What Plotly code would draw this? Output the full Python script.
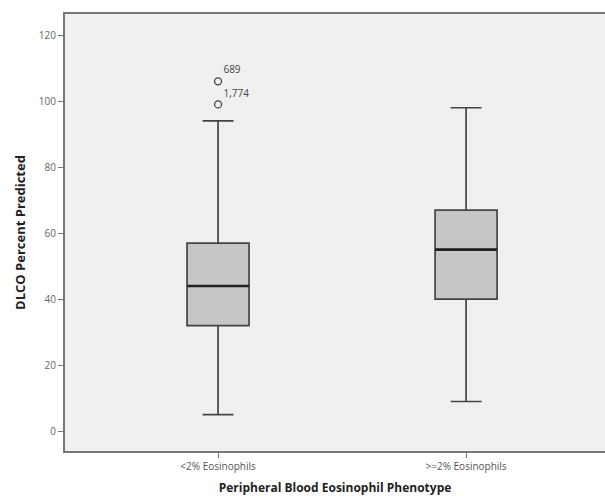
import plotly.graph_objects as go

categories = ["<2% Eosinophils", ">=2% Eosinophils"]
lower_whisker = [5, 9]
q1 = [32, 40]
median = [44, 55]
q3 = [57, 67]
upper_whisker = [94, 98]
outlier_values = [106, 99]
outlier_labels = ["689", "1,774"]
outlier_cat = [categories[0], categories[0]]
y_ticks = [0, 20, 40, 60, 80, 100, 120]

fig = go.Figure()
for i, c in enumerate(categories):
    fig.add_trace(go.Box(
        x=[c], q1=[q1[i]], median=[median[i]], q3=[q3[i]],
        lowerfence=[lower_whisker[i]], upperfence=[upper_whisker[i]],
        fillcolor="#c6c6c6", line=dict(color="#444", width=1.7),
        width=0.25, whiskerwidth=0.5, boxpoints=False, showlegend=False,
        hoverinfo="skip",
    ))
    # thicker median line drawn as a zero-height box at the median value
    fig.add_trace(go.Box(
        x=[c], q1=[median[i]], median=[median[i]], q3=[median[i]],
        lowerfence=[median[i]], upperfence=[median[i]],
        fillcolor="rgba(0,0,0,0)", line=dict(color="#222", width=2.6),
        width=0.25, whiskerwidth=0, boxpoints=False, showlegend=False,
        hoverinfo="skip",
    ))
fig.add_trace(go.Scatter(
    x=outlier_cat, y=outlier_values, mode="markers+text",
    text=outlier_labels, textposition="top right",
    textfont=dict(size=10, color="#444", family="Open Sans"),
    marker=dict(symbol="circle-open", size=7, color="#444", line=dict(width=1.3)),
    showlegend=False, hoverinfo="skip",
))

fig.update_layout(
    width=605, height=496,
    margin=dict(l=65, r=0, t=14, b=45),
    paper_bgcolor="white", plot_bgcolor="#f0f0f0",
    font=dict(family="Open Sans", color="#555"),
    boxmode="overlay",
)
fig.update_xaxes(
    range=[-0.617, 1.56], showline=True, linecolor="#777", linewidth=2,
    mirror=True, ticks="outside", ticklen=5, tickcolor="#777",
    tickfont=dict(size=10, color="#555"), showgrid=False, automargin=False,
    title=dict(text="<b>Peripheral Blood Eosinophil Phenotype</b>",
               font=dict(size=12, color="#222"), standoff=12),
    categoryorder="array", categoryarray=categories,
)
fig.update_yaxes(
    range=[-6, 126.4], showline=True, linecolor="#777", linewidth=2,
    ticks="outside", ticklen=5, tickcolor="#777", tickvals=y_ticks,
    tickfont=dict(size=10, color="#666"), showgrid=False, zeroline=False,
    automargin=False,
    title=dict(text="<b>DLCO Percent Predicted</b>",
               font=dict(size=13, color="#222"), standoff=10),
)
fig.write_html("out.html", config={"displayModeBar": False},
               post_script="document.body.style.margin='0';")
